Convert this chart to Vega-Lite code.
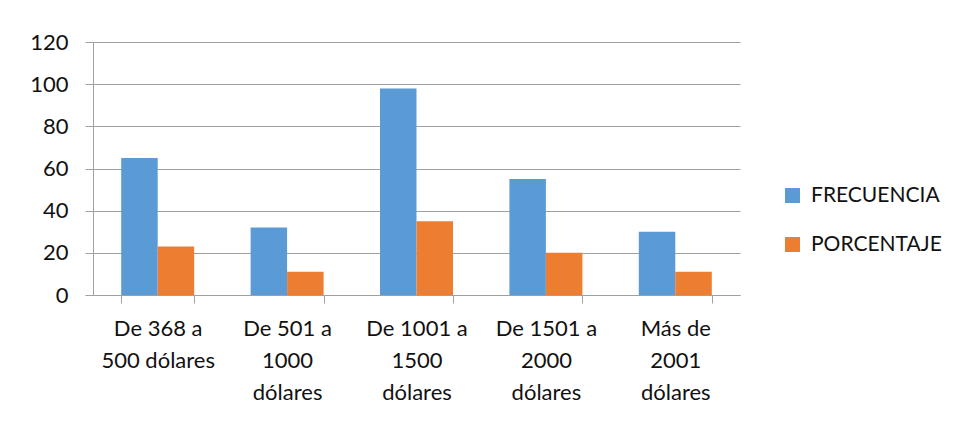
{
  "$schema": "https://vega.github.io/schema/vega-lite/v6.json",
  "width": 647,
  "height": 253,
  "autosize": {"type": "none"},
  "padding": {"left": 93, "top": 42, "right": 219, "bottom": 126},
  "background": "white",
  "data": {
    "values": [
      {"rango": "De 368 a|500 dólares", "serie": "FRECUENCIA", "valor": 65},
      {"rango": "De 368 a|500 dólares", "serie": "PORCENTAJE", "valor": 23},
      {"rango": "De 501 a|1000|dólares", "serie": "FRECUENCIA", "valor": 32},
      {"rango": "De 501 a|1000|dólares", "serie": "PORCENTAJE", "valor": 11},
      {"rango": "De 1001 a|1500|dólares", "serie": "FRECUENCIA", "valor": 98},
      {"rango": "De 1001 a|1500|dólares", "serie": "PORCENTAJE", "valor": 35},
      {"rango": "De 1501 a|2000|dólares", "serie": "FRECUENCIA", "valor": 55},
      {"rango": "De 1501 a|2000|dólares", "serie": "PORCENTAJE", "valor": 20},
      {"rango": "Más de|2001|dólares", "serie": "FRECUENCIA", "valor": 30},
      {"rango": "Más de|2001|dólares", "serie": "PORCENTAJE", "valor": 11}
    ]
  },
  "mark": {"type": "bar"},
  "encoding": {
    "x": {
      "field": "rango",
      "type": "nominal",
      "sort": null,
      "scale": {"paddingInner": 0.436, "paddingOuter": 0.218},
      "axis": {
        "title": null,
        "labelAngle": 0,
        "labelExpr": "split(datum.label, '|')",
        "labelFont": "Lato",
        "labelFontSize": 22,
        "labelColor": "#111",
        "labelLineHeight": 32,
        "labelPadding": 15,
        "labelBaseline": "top",
        "tickBand": "extent",
        "tickSize": 8,
        "tickColor": "#a0a0a0",
        "domainColor": "#a0a0a0",
        "grid": false,
        "labelLimit": 200
      }
    },
    "xOffset": {"field": "serie", "type": "nominal", "sort": ["FRECUENCIA", "PORCENTAJE"], "scale": {"paddingInner": 0, "paddingOuter": 0}},
    "y": {
      "field": "valor",
      "type": "quantitative",
      "scale": {"domain": [0, 120], "nice": false},
      "axis": {
        "title": null,
        "values": [0, 20, 40, 60, 80, 100, 120],
        "labelFont": "Lato",
        "labelFontSize": 22,
        "labelColor": "#111",
        "labelPadding": 17,
        "tickSize": 8,
        "tickColor": "#a0a0a0",
        "domain": true,
        "domainColor": "#a0a0a0",
        "gridColor": "#a0a0a0",
        "gridWidth": 1
      }
    },
    "color": {
      "field": "serie",
      "type": "nominal",
      "scale": {"domain": ["FRECUENCIA", "PORCENTAJE"], "range": ["#5B9BD5", "#ED7D31"]},
      "legend": {
        "title": null,
        "orient": "none",
        "legendX": 689,
        "legendY": 143,
        "symbolType": "square",
        "symbolSize": 225,
        "symbolStrokeWidth": 0,
        "labelFont": "Lato",
        "labelFontSize": 21,
        "labelColor": "#111",
        "labelOffset": 8,
        "rowPadding": 27
      }
    }
  },
  "config": {
    "view": {"stroke": null}
  }
}
